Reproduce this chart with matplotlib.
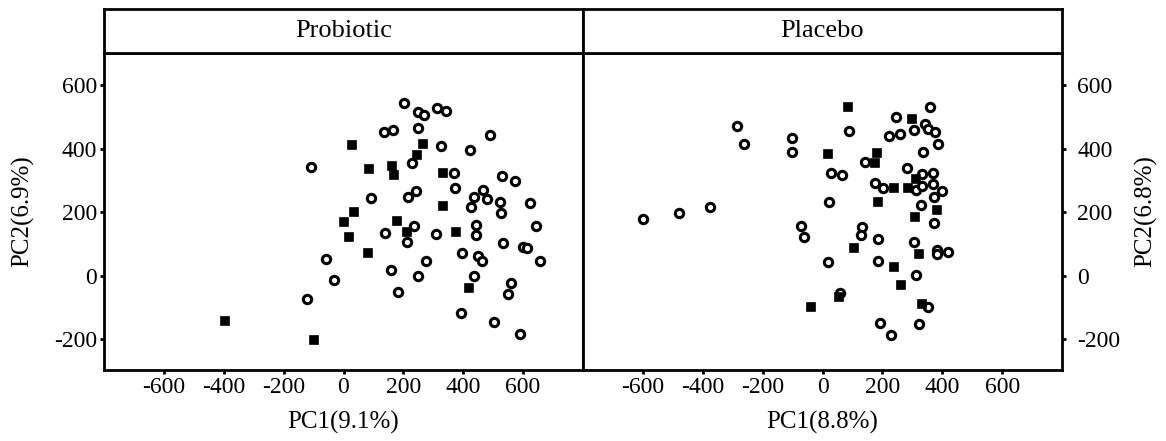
import matplotlib
matplotlib.use('Agg')
import matplotlib.pyplot as plt

plt.rcParams['font.family'] = ['Liberation Serif', 'DejaVu Serif']
plt.rcParams['axes.unicode_minus'] = False

panels = ['Probiotic', 'Placebo']
xlabels = ['PC1(9.1%)', 'PC1(8.8%)']
ylabels = ['PC2(6.9%)', 'PC2(6.8%)']
xticks = [-600, -400, -200, 0, 200, 400, 600]
yticks = [-200, 0, 200, 400, 600]

# probiotic panel
pro_sq_x = [28, 86, 161, 168, 36, 179, 1, 19, 82, -396, -98, 266, 246, 334, 334, 213, 376, 419]
pro_sq_y = [413, 337, 347, 318, 201, 172, 168, 121, 71, -142, -201, 414, 382, 325, 221, 139, 139, -40]
pro_ci_x = [136, 166, -110, 92, 137, -57, 158, -33, 183, -123,
            201, 248, 270, 312, 341, 250, 490, 327, 422, 228, 368, 530, 572, 374, 242, 214,
            467, 436, 481, 522, 526, 427, 623, 643, 237, 211, 309, 442, 442, 534, 601, 613,
            656, 274, 397, 448, 464, 250, 436, 561, 548, 391, 502, 589]
pro_ci_y = [454, 459, 344, 246, 136, 54, 18, -13, -51, -72,
            544, 515, 507, 529, 518, 465, 445, 408, 396, 356, 323, 314, 298, 277, 268, 248,
            269, 248, 242, 234, 198, 216, 230, 158, 156, 106, 133, 159, 128, 103, 91, 89,
            48, 47, 71, 61, 48, 0, 0, -24, -56, -117, -145, -182]

# placebo panel
pla_sq_x = [-40, 84, 19, 104, 54, 181, 177, 240, 186, 284, 299, 313, 308, 383, 322, 240, 263, 333]
pla_sq_y = [-100, 532, 384, 88, -67, 386, 354, 276, 234, 276, 495, 305, 186, 207, 69, 27, -28, -89]
pla_ci_x = [-284, -261, -101, -101, -600, -479, -376, -73, -62,
            88, 30, 66, 23, 18, 133, 129, 187, 187, 57, 142, 177, 201, 246, 223, 259, 304,
            358, 343, 351, 376, 387, 337, 282, 332, 368, 312, 331, 368, 398, 373, 328, 374,
            304, 381, 381, 418, 311, 351, 192, 229, 323]
pla_ci_y = [472, 416, 435, 391, 178, 199, 218, 157, 122,
            456, 324, 318, 234, 44, 155, 127, 115, 46, -55, 358, 291, 278, 501, 442, 447, 459,
            531, 478, 462, 453, 414, 391, 339, 320, 325, 270, 284, 288, 268, 249, 222, 167,
            105, 82, 67, 76, 1, -100, -149, -186, -153]

data = [(pro_sq_x, pro_sq_y, pro_ci_x, pro_ci_y), (pla_sq_x, pla_sq_y, pla_ci_x, pla_ci_y)]

fig = plt.figure(figsize=(11.66, 4.41), dpi=100)
lefts = [104 / 1166, 583 / 1166]
w = 479 / 1166
b = 71 / 441
h = 317 / 441

for i in range(2):
    ax = fig.add_axes([lefts[i], b, w, h])
    sx, sy, cx, cy = data[i]
    ax.plot(cx, cy, 'o', ms=6, mfc='white', mec='black', mew=2.2, ls='none')
    ax.plot(sx, sy, 's', ms=5.8, mfc='black', mec='black', mew=1.2, ls='none')
    ax.set_xlim(-800, 800)
    ax.set_ylim(-297, 702)
    ax.set_xticks(xticks)
    ax.set_yticks(yticks)
    ax.tick_params(labelsize=17, width=2, length=3, pad=2)
    for s in ax.spines.values():
        s.set_linewidth(2)
    ax.set_xlabel(xlabels[i], fontsize=18, labelpad=9)
    if i == 1:
        ax.yaxis.tick_right()
        ax.yaxis.set_label_position('right')
        ax.tick_params(axis='y', pad=8)
        ax.set_ylabel(ylabels[i], fontsize=18, labelpad=10)
    else:
        ax.set_ylabel(ylabels[i], fontsize=18, labelpad=14)

    st = fig.add_axes([lefts[i], b + h, w, 44 / 441])
    st.set_xticks([])
    st.set_yticks([])
    for s in st.spines.values():
        s.set_linewidth(2)
    st.text(0.5, 0.5, panels[i], fontsize=19, ha='center', va='center', transform=st.transAxes)

fig.savefig('out.png', dpi=100)
